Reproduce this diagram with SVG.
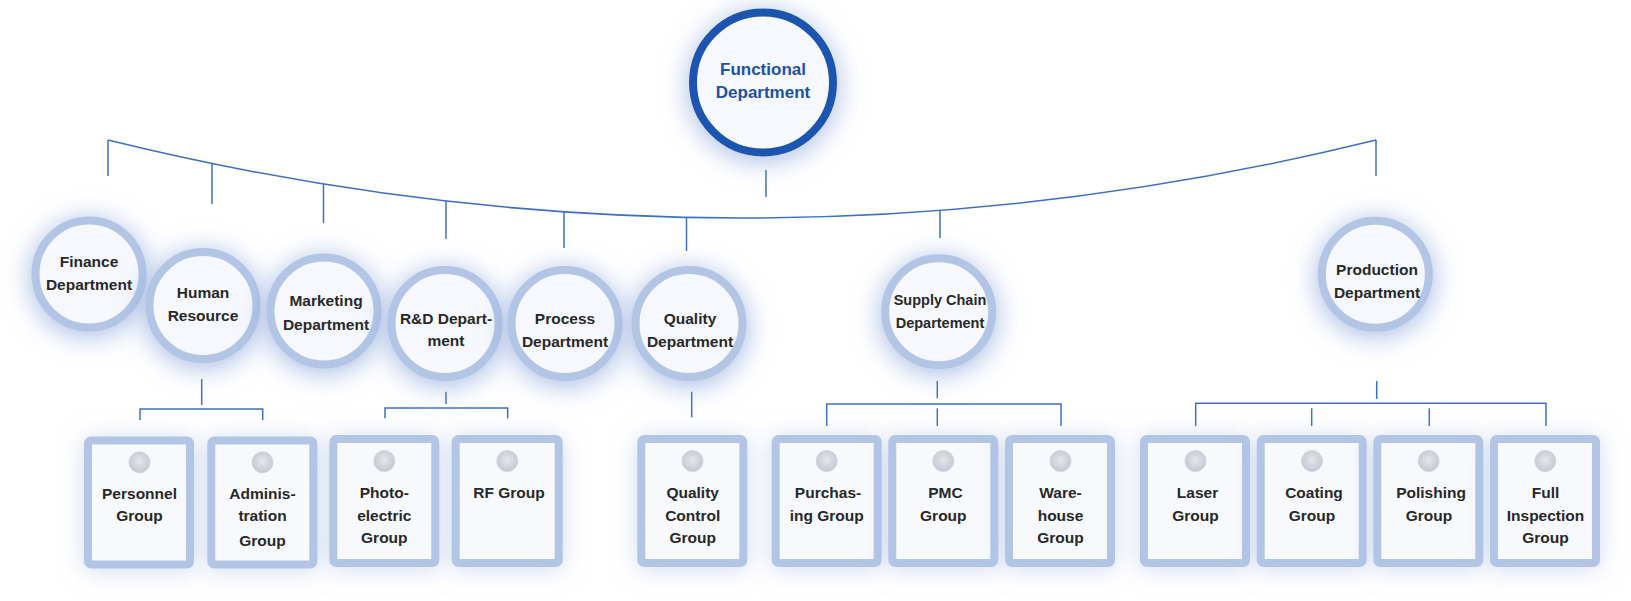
<svg xmlns="http://www.w3.org/2000/svg" width="1631" height="601" viewBox="0 0 1631 601">
<defs>
<filter id="glow" x="-80%" y="-80%" width="260%" height="260%">
<feDropShadow dx="0" dy="4" stdDeviation="14" flood-color="#8ba6db" flood-opacity="0.8"/>
</filter>
<filter id="glowTop" x="-80%" y="-80%" width="260%" height="260%">
<feDropShadow dx="0" dy="4" stdDeviation="14" flood-color="#7f9bd8" flood-opacity="0.7"/>
</filter>
<filter id="boxGlow" x="-60%" y="-50%" width="220%" height="200%">
<feDropShadow dx="0" dy="2" stdDeviation="12" flood-color="#a9bde4" flood-opacity="0.55"/>
</filter>
<radialGradient id="dotGrad" cx="50%" cy="45%" r="55%">
<stop offset="0" stop-color="#e6e6ec"/>
<stop offset="1" stop-color="#c5c6d0"/>
</radialGradient>
<style>
.dept{fill:#f6f8fd;stroke:#b2c5e5;stroke-width:8;filter:url(#glow)}
.top{fill:#f6f8fd;stroke:#1b54af;stroke-width:8;filter:url(#glowTop)}
.box{fill:#f7f9fd;stroke:#b2c5e5;stroke-width:8;filter:url(#boxGlow)}
.dot{fill:url(#dotGrad);stroke:#d3d4dc;stroke-width:1}
.t{font-family:"Liberation Sans",Arial,sans-serif;font-weight:bold;font-size:15.5px;fill:#282828;text-anchor:middle}
.ts{font-size:14.5px}
.tt{font-family:"Liberation Sans",Arial,sans-serif;font-weight:bold;font-size:17px;fill:#1c50aa;text-anchor:middle}
.c{fill:none;stroke:#3d6fc3;stroke-width:1.5}
</style>
</defs>

<g id="connectors">
<line class="c" x1="766" y1="170" x2="766" y2="197"/>
<path class="c" d="M108,140 Q742,296 1376,140"/>
<line class="c" x1="108" y1="140" x2="108" y2="176"/>
<line class="c" x1="212" y1="164" x2="212" y2="204"/>
<line class="c" x1="323.5" y1="184" x2="323.5" y2="223"/>
<line class="c" x1="446" y1="201" x2="446" y2="239"/>
<line class="c" x1="564" y1="212" x2="564" y2="248"/>
<line class="c" x1="686.5" y1="217" x2="686.5" y2="251"/>
<line class="c" x1="940" y1="210" x2="940" y2="238"/>
<line class="c" x1="1376" y1="140" x2="1376" y2="176"/>

<line class="c" x1="201.7" y1="379" x2="201.7" y2="405"/>
<polyline class="c" points="140,420 140,409 262.7,409 262.7,420"/>

<line class="c" x1="446" y1="391.7" x2="446" y2="404"/>
<polyline class="c" points="385,418.3 385,408 507.7,408 507.7,418.3"/>

<line class="c" x1="691.7" y1="391.7" x2="691.7" y2="417.3"/>

<line class="c" x1="937.3" y1="381" x2="937.3" y2="398.3"/>
<polyline class="c" points="826.7,426 826.7,404 1061,404 1061,426"/>
<line class="c" x1="937.3" y1="408.3" x2="937.3" y2="426"/>

<line class="c" x1="1376.7" y1="381" x2="1376.7" y2="399"/>
<polyline class="c" points="1195.7,426 1195.7,403.3 1546,403.3 1546,426"/>
<line class="c" x1="1311.7" y1="408.3" x2="1311.7" y2="426"/>
<line class="c" x1="1429.3" y1="408.3" x2="1429.3" y2="426"/>
</g>

<g id="functional-department">
<circle class="top" cx="763" cy="82.5" r="70"/>
<text class="tt" x="763" y="74.5">Functional</text>
<text class="tt" x="763" y="97.5">Department</text>
</g>

<g id="finance-department">
<circle class="dept" cx="89" cy="274" r="53.5"/>
<text class="t" x="89" y="267">Finance</text>
<text class="t" x="89" y="289.5">Department</text>
</g>
<g id="human-resource">
<circle class="dept" cx="203" cy="305.5" r="53.5"/>
<text class="t" x="203" y="298">Human</text>
<text class="t" x="203" y="321">Resource</text>
</g>
<g id="marketing-department">
<circle class="dept" cx="324" cy="311" r="53.5"/>
<text class="t" x="326" y="306">Marketing</text>
<text class="t" x="326" y="329.5">Department</text>
</g>
<g id="rd-department">
<circle class="dept" cx="445" cy="323.5" r="53.5"/>
<text class="t" x="446" y="323.5">R&amp;D Depart-</text>
<text class="t" x="446" y="346">ment</text>
</g>
<g id="process-department">
<circle class="dept" cx="565" cy="323.5" r="53.5"/>
<text class="t" x="565" y="323.5">Process</text>
<text class="t" x="565" y="346.5">Department</text>
</g>
<g id="quality-department">
<circle class="dept" cx="689" cy="323.5" r="53.5"/>
<text class="t" x="690" y="323.5">Quality</text>
<text class="t" x="690" y="346.5">Department</text>
</g>
<g id="supply-chain-departement">
<circle class="dept" cx="938.7" cy="311.7" r="53.5"/>
<text class="t ts" x="940" y="305.3">Supply Chain</text>
<text class="t ts" x="940" y="328">Departement</text>
</g>
<g id="production-department">
<circle class="dept" cx="1375.3" cy="274.3" r="53.5"/>
<text class="t" x="1377" y="274.5">Production</text>
<text class="t" x="1377" y="297.5">Department</text>
</g>

<g id="personnel-group">
<rect class="box" x="88" y="440.5" width="102" height="124" rx="3"/>
<circle class="dot" cx="139.5" cy="462.3" r="10.5"/>
<text class="t" x="139.5" y="498.5">Personnel</text>
<text class="t" x="139.5" y="521.3">Group</text>
</g>
<g id="administration-group">
<rect class="box" x="211.3" y="440.5" width="102" height="124" rx="3"/>
<circle class="dot" cx="262.5" cy="462.3" r="10.5"/>
<text class="t" x="262.5" y="498.5">Adminis-</text>
<text class="t" x="262.5" y="521.3">tration</text>
<text class="t" x="262.5" y="546">Group</text>
</g>
<g id="photoelectric-group">
<rect class="box" x="333.3" y="439" width="102" height="124" rx="3"/>
<circle class="dot" cx="384.3" cy="461" r="10.5"/>
<text class="t" x="384.3" y="498">Photo-</text>
<text class="t" x="384.3" y="520.5">electric</text>
<text class="t" x="384.3" y="543.2">Group</text>
</g>
<g id="rf-group">
<rect class="box" x="455.7" y="439" width="103" height="124" rx="3"/>
<circle class="dot" cx="507.3" cy="461" r="10.5"/>
<text class="t" x="509" y="498">RF Group</text>
</g>
<g id="quality-control-group">
<rect class="box" x="641.3" y="439" width="102" height="124" rx="3"/>
<circle class="dot" cx="692.5" cy="461" r="10.5"/>
<text class="t" x="692.7" y="498">Quality</text>
<text class="t" x="692.7" y="520.7">Control</text>
<text class="t" x="692.7" y="543.3">Group</text>
</g>
<g id="purchasing-group">
<rect class="box" x="775.7" y="439" width="102" height="124" rx="3"/>
<circle class="dot" cx="826.7" cy="461" r="10.5"/>
<text class="t" x="828" y="498">Purchas-</text>
<text class="t" x="826.7" y="520.7">ing Group</text>
</g>
<g id="pmc-group">
<rect class="box" x="892.3" y="439" width="102" height="124" rx="3"/>
<circle class="dot" cx="943.3" cy="461" r="10.5"/>
<text class="t" x="945.5" y="498">PMC</text>
<text class="t" x="943.3" y="520.7">Group</text>
</g>
<g id="warehouse-group">
<rect class="box" x="1009" y="439" width="102" height="124" rx="3"/>
<circle class="dot" cx="1060.5" cy="461" r="10.5"/>
<text class="t" x="1060.5" y="498">Ware-</text>
<text class="t" x="1060.5" y="520.7">house</text>
<text class="t" x="1060.5" y="543.3">Group</text>
</g>
<g id="laser-group">
<rect class="box" x="1144" y="439" width="102" height="124" rx="3"/>
<circle class="dot" cx="1195.5" cy="461" r="10.5"/>
<text class="t" x="1197.5" y="498">Laser</text>
<text class="t" x="1195.5" y="520.7">Group</text>
</g>
<g id="coating-group">
<rect class="box" x="1260.7" y="439" width="102" height="124" rx="3"/>
<circle class="dot" cx="1312" cy="461" r="10.5"/>
<text class="t" x="1314" y="498">Coating</text>
<text class="t" x="1312" y="520.7">Group</text>
</g>
<g id="polishing-group">
<rect class="box" x="1377.3" y="439" width="102" height="124" rx="3"/>
<circle class="dot" cx="1428.7" cy="461" r="10.5"/>
<text class="t" x="1431" y="498">Polishing</text>
<text class="t" x="1429" y="520.7">Group</text>
</g>
<g id="full-inspection-group">
<rect class="box" x="1494" y="439" width="102" height="124" rx="3"/>
<circle class="dot" cx="1545.3" cy="461" r="10.5"/>
<text class="t" x="1545.5" y="498">Full</text>
<text class="t" x="1545.5" y="520.7">Inspection</text>
<text class="t" x="1545.5" y="543.3">Group</text>
</g>
</svg>
